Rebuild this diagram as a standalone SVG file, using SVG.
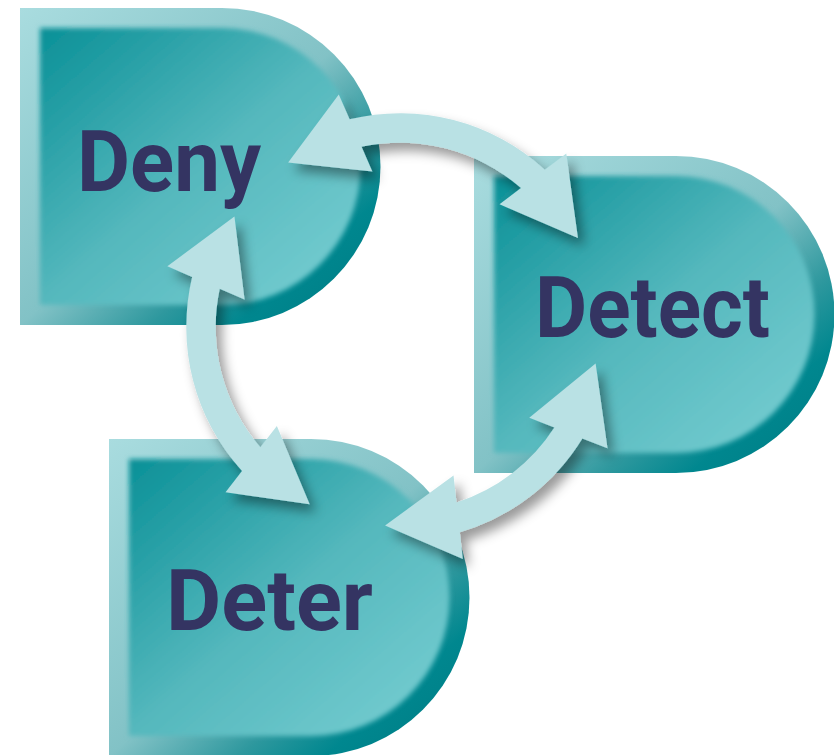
<svg xmlns="http://www.w3.org/2000/svg" xmlns:xlink="http://www.w3.org/1999/xlink" width="834" height="755" viewBox="0 0 834 755">
  <style>
    .outer { fill: url(#gOuter); }
    .inner { fill: url(#gInner); filter: url(#soft); }
    .label { font-family: Roboto, "Liberation Sans", sans-serif; font-weight: 700; font-size: 86px; fill: #343462; }
    .arrow { fill: #b9e1e4; }
  </style>
  <defs>
    <linearGradient id="gOuter" x1="0" y1="0" x2="1" y2="1">
      <stop offset="0" stop-color="#a9dcdf"/>
      <stop offset="0.5" stop-color="#82c2c6"/>
      <stop offset="0.68" stop-color="#2e989e"/>
      <stop offset="0.8" stop-color="#00878f"/>
      <stop offset="1" stop-color="#007a82"/>
    </linearGradient>
    <linearGradient id="gInner" x1="0" y1="0" x2="1" y2="1">
      <stop offset="0" stop-color="#0a9097"/>
      <stop offset="0.5" stop-color="#55b8bd"/>
      <stop offset="1" stop-color="#79cfd3"/>
    </linearGradient>
    <filter id="soft" x="-5%" y="-5%" width="110%" height="110%">
      <feGaussianBlur stdDeviation="2.5"/>
    </filter>
    <filter id="shadow" x="-20%" y="-20%" width="150%" height="150%">
      <feDropShadow dx="6" dy="8" stdDeviation="6" flood-color="#000000" flood-opacity="0.4"/>
    </filter>
    <path id="dOuter" d="M0,0 H202 A158.5,158.5 0 0 1 202,317 H0 Z"/>
    <path id="dInner" d="M20,20 H202 A138.5,138.5 0 0 1 202,297 H20 Z"/>
  </defs>

  <g id="node-deny" transform="translate(20,8)">
    <use xlink:href="#dOuter" class="outer"/>
    <use xlink:href="#dInner" class="inner"/>
    <text class="label" x="57" y="183" textLength="184" lengthAdjust="spacingAndGlyphs">Deny</text>
  </g>

  <g id="node-detect" transform="translate(474,156)">
    <use xlink:href="#dOuter" class="outer"/>
    <use xlink:href="#dInner" class="inner"/>
    <text class="label" x="61" y="181" textLength="235" lengthAdjust="spacingAndGlyphs">Detect</text>
  </g>

  <g id="node-deter" transform="translate(109,439)">
    <use xlink:href="#dOuter" class="outer"/>
    <use xlink:href="#dInner" class="inner"/>
    <text class="label" x="57" y="191" textLength="207" lengthAdjust="spacingAndGlyphs">Deter</text>
  </g>

  <g id="connectors" filter="url(#shadow)">
    <path id="arrow-deny-detect" class="arrow" d="M 288.15 162.41 L 338.79 94.52 L 349.58 119.27 A 214 214 0 0 1 544.83 169.78 L 566.29 153.40 L 577.94 237.90 L 499.51 204.36 L 520.98 187.98 A 184 184 0 0 0 361.56 146.77 L 372.35 171.52 Z"/>
    <path id="arrow-deny-deter" class="arrow" d="M 234.44 216.59 L 167.36 266.33 L 192.17 276.99 A 214 214 0 0 0 242.02 470.99 L 225.51 492.35 L 309.66 504.31 L 276.87 425.89 L 260.36 447.25 A 184 184 0 0 1 219.73 288.83 L 244.54 299.49 Z"/>
    <path id="arrow-detect-deter" class="arrow" d="M 595.61 363.61 L 607.50 448.37 L 582.36 438.52 A 214 214 0 0 1 459.84 532.21 L 462.83 559.04 L 385.08 525.44 L 453.53 475.56 L 456.52 502.39 A 184 184 0 0 0 554.42 427.57 L 529.28 417.71 Z"/>
  </g>
</svg>
